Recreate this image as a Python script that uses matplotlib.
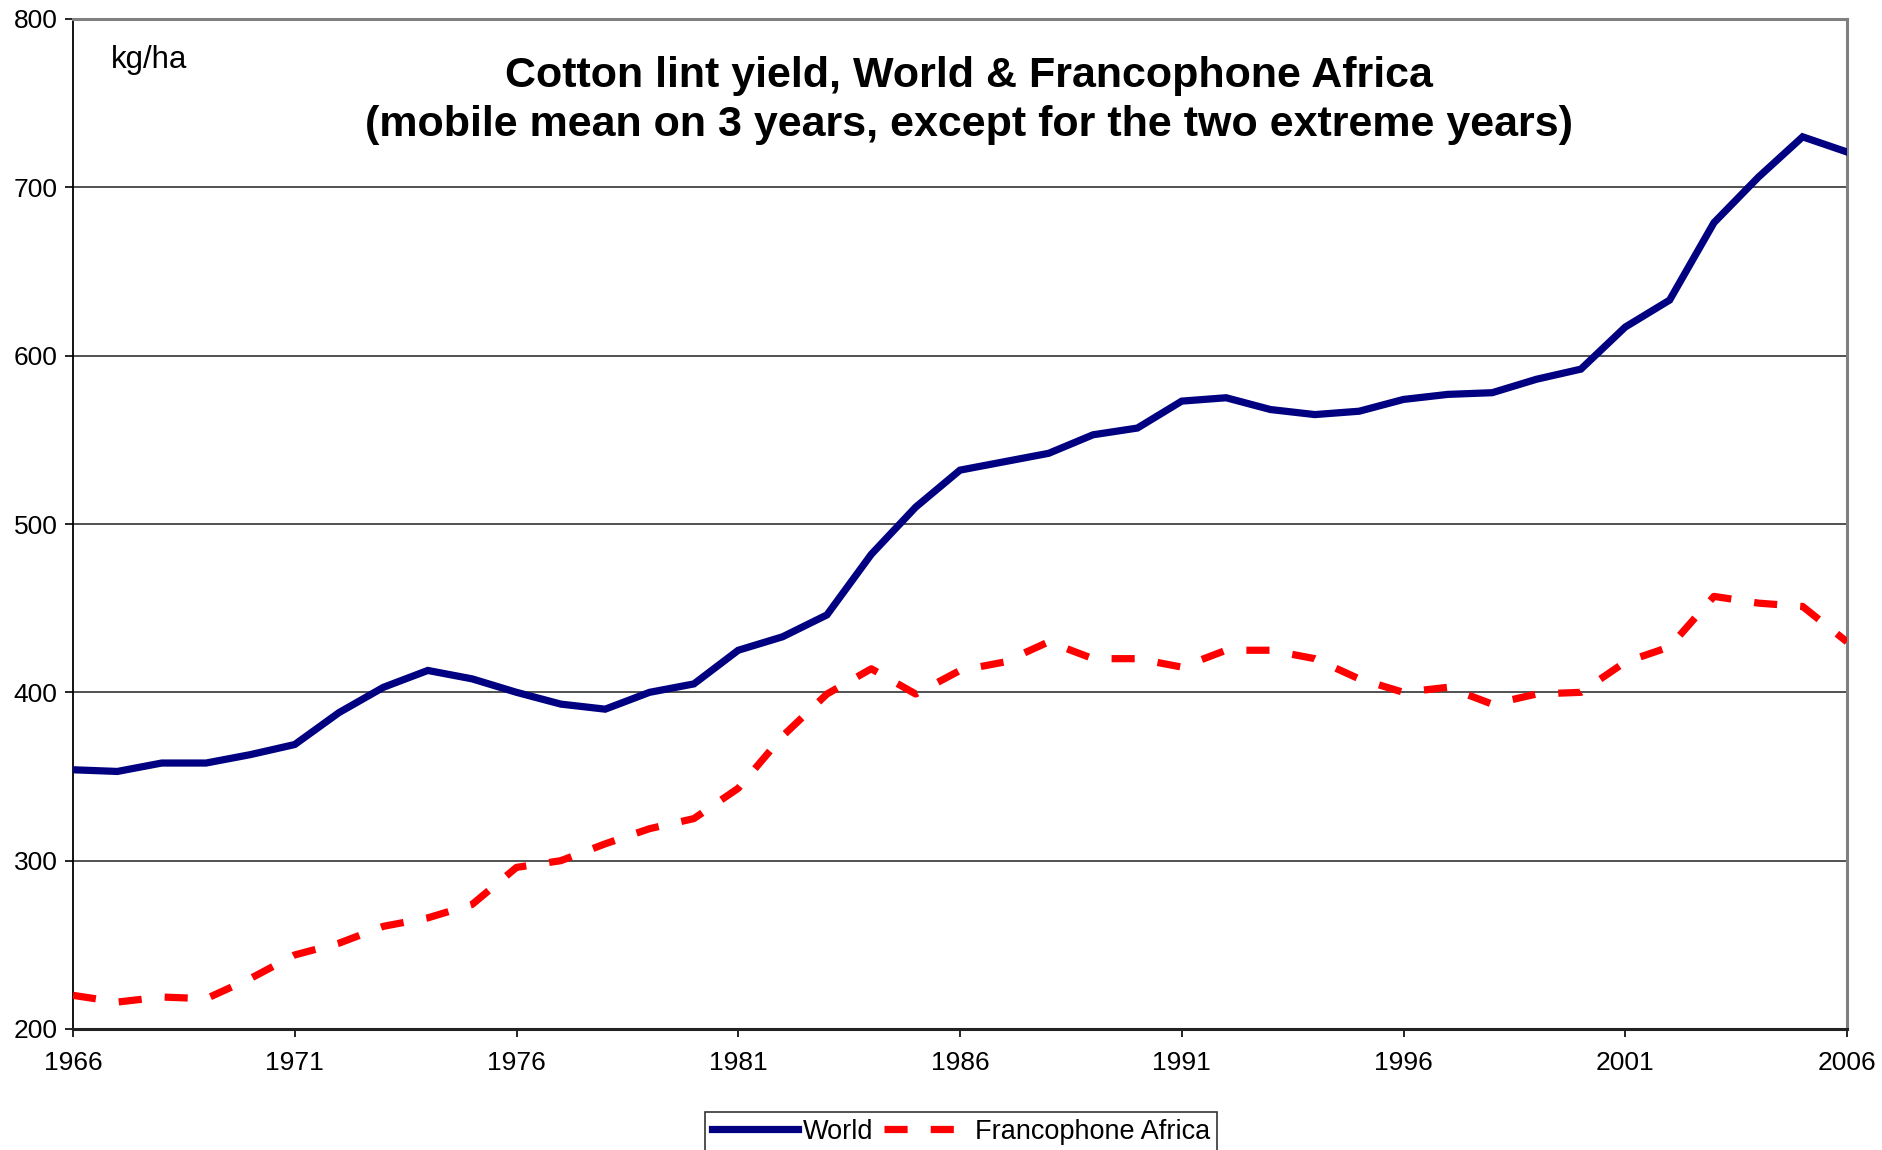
import numpy as np
import matplotlib.pyplot as plt

plt.rcParams['font.family'] = ['Liberation Sans', 'DejaVu Sans']

# cotton lint yield, kg/ha (3-year moving average)
years = list(range(1966, 2007))
world = [354, 353, 358, 358, 363, 369, 388, 403, 413, 408,
         400, 393, 390, 400, 405, 425, 433, 446, 482, 510,
         532, 537, 542, 553, 557, 573, 575, 568, 565, 567,
         574, 577, 578, 586, 592, 617, 633, 679, 706, 730,
         721]
francophone = [220, 216, 219, 218, 230, 244, 251, 261, 266, 274,
               296, 300, 310, 319, 325, 343, 374, 399, 414, 399,
               413, 418, 430, 420, 420, 415, 425, 425, 420, 408,
               400, 403, 393, 399, 400, 418, 427, 457, 453, 451,
               430]
xticks = list(range(1966, 2007, 5))
yticks = list(range(200, 801, 100))

fig = plt.figure(figsize=(18.82, 11.5), dpi=100)
ax = fig.add_axes([73 / 1882, 1 - 1029 / 1150, (1847 - 73) / 1882, (1029 - 19) / 1150])

ax.plot(years, world, color='#000080', lw=5.2, solid_joinstyle='miter',
        label='World', zorder=3)
ax.plot(years, francophone, color='#ff0000', lw=5.2, dashes=(3.2, 3.2),
        dash_capstyle='butt', label='Francophone Africa', zorder=3)

ax.set_xlim(1966, 2006)
ax.set_ylim(200, 800)
ax.set_xticks(xticks)
ax.set_yticks(yticks)
ax.tick_params(axis='both', direction='out', length=6, width=1.2,
               labelsize=19, colors='black')
ax.tick_params(axis='x', pad=10)
ax.tick_params(axis='y', pad=5)

for y in yticks[1:-1]:
    ax.axhline(y, color='#222222', lw=1.1, zorder=1)

ax.spines['left'].set_color('black')
ax.spines['left'].set_linewidth(1.3)
ax.spines['bottom'].set_color('#222222')
ax.spines['bottom'].set_linewidth(2.2)
ax.spines['top'].set_color('#808080')
ax.spines['top'].set_linewidth(2.2)
ax.spines['right'].set_color('#808080')
ax.spines['right'].set_linewidth(2.2)

ax.text(0.0215, 0.959, 'kg/ha', transform=ax.transAxes, fontsize=22.5,
        ha='left', va='center')
ax.text(0.505, 0.919,
        'Cotton lint yield, World & Francophone Africa\n'
        '(mobile mean on 3 years, except for the two extreme years)',
        transform=ax.transAxes, fontsize=31, fontweight='bold',
        ha='center', va='center', linespacing=1.28)

leg = fig.legend(loc='upper center', bbox_to_anchor=(0.5105, 1 - 1112 / 1150),
                 ncol=2, fontsize=19.5, frameon=True, fancybox=False,
                 handlelength=3.2, handletextpad=0.15, columnspacing=0.4,
                 borderpad=0.25, borderaxespad=0)
leg.get_frame().set_edgecolor('black')
leg.get_frame().set_linewidth(1.2)

fig.savefig('out.png', dpi=100)
